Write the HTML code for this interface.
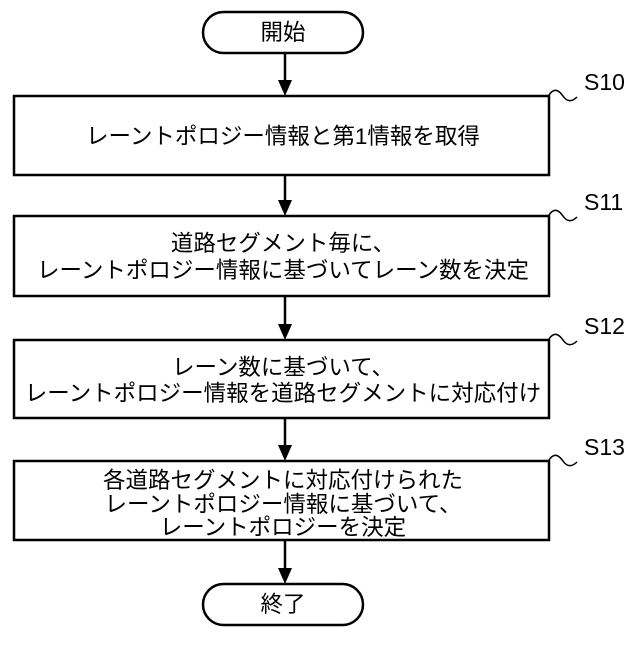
<!DOCTYPE html>
<html><head><meta charset="utf-8"><style>
html,body{margin:0;padding:0;background:#fff}
text{font-family:"Liberation Sans","Noto Sans CJK JP",sans-serif;font-size:22.5px;fill:#000}
</style></head><body>
<svg width="640" height="640" viewBox="0 0 640 640" xmlns="http://www.w3.org/2000/svg">
<g fill="none" stroke="#000" stroke-width="2.5">
<rect x="203" y="12" width="160" height="41" rx="20.5"/>
<rect x="203" y="584" width="160" height="41" rx="20.5"/>
<rect x="14" y="96" width="535" height="79"/>
<rect x="14" y="216" width="535" height="80"/>
<rect x="14" y="340" width="535" height="78"/>
<rect x="14" y="461" width="535" height="79"/>
<line x1="285" y1="53" x2="285" y2="82"/>
<line x1="285" y1="175" x2="285" y2="202"/>
<line x1="285" y1="296" x2="285" y2="326"/>
<line x1="285" y1="418" x2="285" y2="447"/>
<line x1="285" y1="540" x2="285" y2="570"/>
</g>
<g fill="none" stroke="#000" stroke-width="1.5">
<path d="M549 95 C555 86,560 92,563 96 C567 102,572 102,577 97"/>
<path d="M549 215 C555 206,560 212,563 216 C567 222,572 222,577 217"/>
<path d="M549 339 C555 330,560 336,563 340 C567 346,572 346,577 341"/>
<path d="M549 460 C555 451,560 457,563 461 C567 467,572 467,577 462"/>
</g>
<g fill="#000">
<polygon points="278,80 292,80 285,96"/>
<polygon points="278,200 292,200 285,216"/>
<polygon points="278,324 292,324 285,340"/>
<polygon points="278,445 292,445 285,461"/>
<polygon points="278,568 292,568 285,584"/>
</g>
<g text-anchor="middle">
<text x="283" y="40">開始</text>
<text x="283" y="612">終了</text>
<text x="283" y="144">レーントポロジー情報と第1情報を取得</text>
<text x="283" y="251">道路セグメント毎に、</text>
<text x="283" y="278">レーントポロジー情報に基づいてレーン数を決定</text>
<text x="283" y="375">レーン数に基づいて、</text>
<text x="283" y="401">レーントポロジー情報を道路セグメントに対応付け</text>
<text x="283" y="488">各道路セグメントに対応付けられた</text>
<text x="283" y="512">レーントポロジー情報に基づいて、</text>
<text x="283" y="535">レーントポロジーを決定</text>
</g>
<g>
<text x="584" y="90" style="font-size:23px">S10</text>
<text x="584" y="210" style="font-size:23px">S11</text>
<text x="584" y="334" style="font-size:23px">S12</text>
<text x="584" y="455" style="font-size:23px">S13</text>
</g>
</svg>
</body></html>
